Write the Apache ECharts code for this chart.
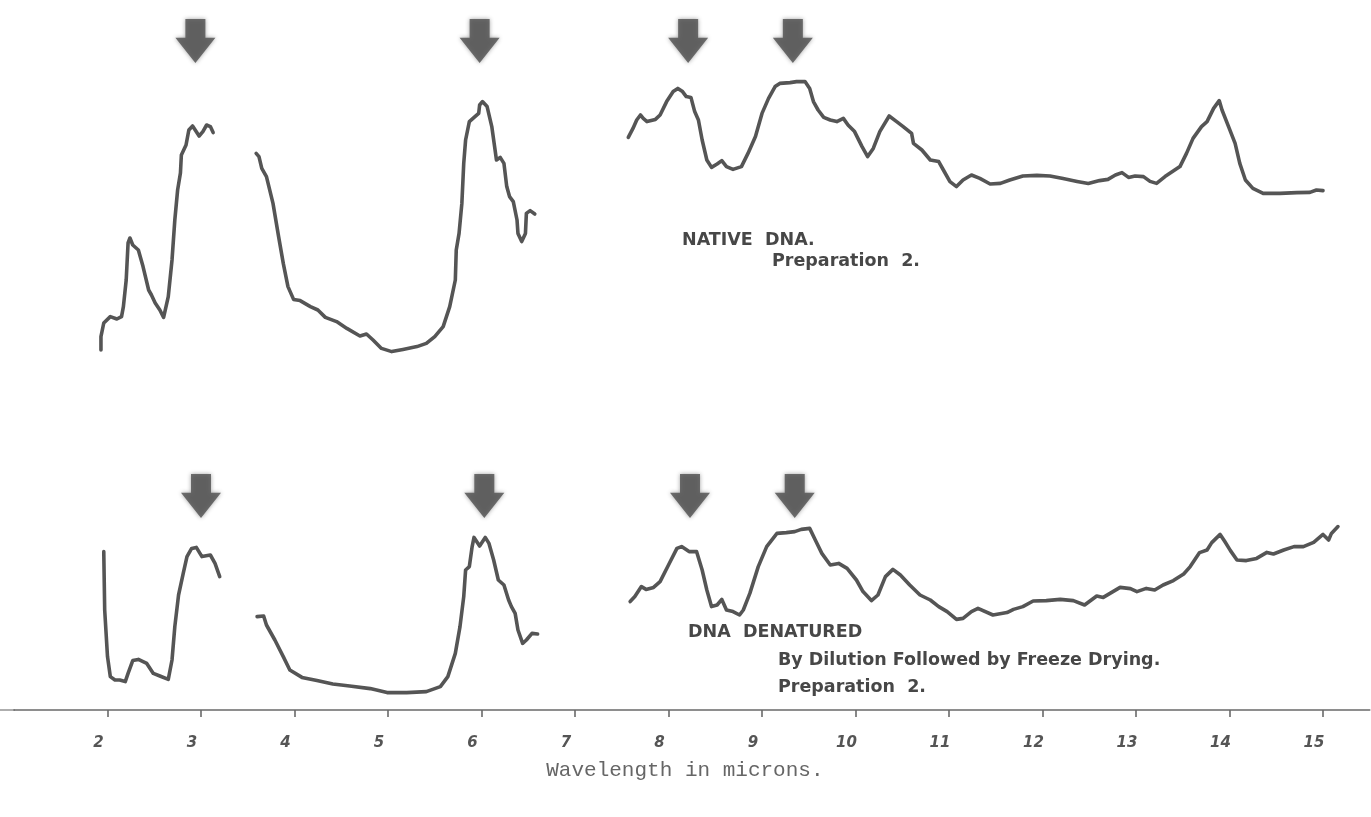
<!DOCTYPE html>
<html>
<head>
<meta charset="utf-8">
<script src="https://cdn.jsdelivr.net/npm/echarts@6/dist/echarts.min.js"></script>
<style>
html,body{margin:0;padding:0;background:#fff;}
#chart{width:1371px;height:817px;}
</style>
</head>
<body>
<div id="chart"></div>
<script>
// ---- Data (wavelength in microns, relative absorption in arbitrary units) ----
const xTicks = [2,3,4,5,6,7,8,9,10,11,12,13,14,15];

// Native DNA, Preparation 2 (upper trace), three recorded segments
const nativeSeg1 = [[1.93,5],[1.93,11.7],[1.96,18.5],[2.03,21.7],[2.10,20.5],[2.15,21.7],[2.17,26.7],[2.20,40],[2.22,58.5],[2.24,61],[2.27,57.5],[2.33,55],[2.38,46.7],[2.44,35],[2.47,32.5],[2.51,28.5],[2.56,25],[2.60,21.3],[2.65,31.7],[2.69,50],[2.72,70],[2.75,85],[2.78,93.5],[2.79,102.5],[2.84,107.5],[2.87,115],[2.91,117],[2.98,112],[3.02,114.2],[3.06,117.5],[3.10,116.7],[3.13,113.7]];
const nativeSeg2 = [[3.59,103.3],[3.62,101.7],[3.65,95.8],[3.70,91.7],[3.77,78.3],[3.83,61.7],[3.88,48.3],[3.93,36.7],[3.99,30.3],[4.06,29.7],[4.17,26.7],[4.25,25],[4.33,21.3],[4.45,19.2],[4.56,15.8],[4.70,12],[4.77,13],[4.84,10],[4.93,5.8],[5.04,4.2],[5.16,5.3],[5.31,6.7],[5.41,8.3],[5.50,11.7],[5.59,16.7],[5.66,26.7],[5.72,40],[5.73,55],[5.76,63.3],[5.79,78.3],[5.81,98.3],[5.83,110],[5.87,119.2],[5.93,121.7],[5.97,123.3],[5.98,127.5],[6.01,129.2],[6.06,126.7],[6.11,116.7],[6.14,106.7],[6.16,100],[6.20,101.3],[6.24,98.3],[6.27,86.7],[6.30,81.7],[6.34,79.2],[6.38,70],[6.39,63.3],[6.43,59.2],[6.47,63.3],[6.48,73.3],[6.52,74.7],[6.57,73]];
const nativeSeg3 = [[7.57,111.3],[7.62,115.8],[7.66,120],[7.70,122.5],[7.73,120.8],[7.77,119.2],[7.86,120.3],[7.91,122.5],[7.98,129.2],[8.05,134.2],[8.10,135.8],[8.15,134.2],[8.19,131.7],[8.24,131.3],[8.28,124.2],[8.32,120],[8.36,110],[8.41,100],[8.46,96.3],[8.52,98],[8.57,99.7],[8.62,96.7],[8.69,95.3],[8.78,96.7],[8.85,103.3],[8.93,111.7],[9.00,123.3],[9.07,130.8],[9.14,136.7],[9.19,138.3],[9.30,138.7],[9.37,139.2],[9.46,139.2],[9.51,135.8],[9.55,129.2],[9.60,125],[9.66,121.3],[9.73,120],[9.80,119.2],[9.87,120.8],[9.92,117.5],[9.99,114.2],[10.07,106.7],[10.13,101.7],[10.19,105.8],[10.26,114.2],[10.36,122],[10.44,119.2],[10.51,116.7],[10.60,113.3],[10.62,108.3],[10.71,105],[10.80,100],[10.89,99.2],[10.94,95],[11.01,89.2],[11.08,86.7],[11.15,90],[11.24,92.5],[11.33,90.8],[11.44,88],[11.55,88.3],[11.65,90],[11.79,92],[11.94,92.3],[12.08,92],[12.22,90.7],[12.37,89.3],[12.49,88.3],[12.61,89.7],[12.70,90.3],[12.78,92.5],[12.85,93.7],[12.92,91.3],[12.99,92],[13.08,91.7],[13.15,89.3],[13.22,88.3],[13.31,91.7],[13.47,96.7],[13.54,103.3],[13.61,110.8],[13.70,116.7],[13.76,119.2],[13.83,125.8],[13.89,129.7],[13.92,125],[13.99,116.7],[14.06,108.3],[14.11,98.3],[14.17,90],[14.25,85.8],[14.36,83.3],[14.54,83.3],[14.72,83.7],[14.86,83.8],[14.93,85],[15.00,84.7]];

// DNA denatured by dilution followed by freeze drying, Preparation 2 (lower trace)
const denatSeg1 = [[1.96,79.2],[1.97,50],[2.00,26.7],[2.03,16.7],[2.08,15],[2.13,15],[2.19,14.2],[2.22,18.3],[2.27,24.7],[2.33,25.3],[2.42,23.3],[2.49,18.3],[2.56,17],[2.65,15.3],[2.69,25],[2.72,41.7],[2.76,57.5],[2.81,68.3],[2.85,76.7],[2.90,80.8],[2.95,81.3],[3.01,76.7],[3.04,77],[3.10,77.5],[3.15,73.3],[3.20,66.7]];
const denatSeg2 = [[3.60,46.7],[3.67,47],[3.70,42.5],[3.79,35],[3.88,26.7],[3.95,20],[4.08,16.3],[4.24,14.7],[4.41,13],[4.59,12],[4.81,10.7],[4.99,8.7],[5.20,8.7],[5.41,9.2],[5.56,11.7],[5.64,16.7],[5.72,28.3],[5.77,41.7],[5.81,56.7],[5.83,70],[5.87,71.7],[5.90,81.7],[5.92,86.3],[5.98,82],[6.04,86.3],[6.08,83.3],[6.13,75],[6.18,65],[6.24,62.5],[6.29,55],[6.32,51.7],[6.36,48.3],[6.39,40],[6.44,33.3],[6.48,35],[6.54,38.3],[6.60,38]];
const denatSeg3 = [[7.59,54.2],[7.64,56.7],[7.71,61.7],[7.76,60.3],[7.84,61.3],[7.91,64.2],[8.00,72.5],[8.09,80.8],[8.14,81.7],[8.22,79.2],[8.30,79.2],[8.36,70],[8.41,60],[8.46,51.7],[8.52,52.5],[8.57,55.3],[8.62,50],[8.69,49.2],[8.76,47.5],[8.80,50],[8.87,58.3],[8.96,71.7],[9.05,81.7],[9.16,88.3],[9.26,88.7],[9.35,89.2],[9.42,90.3],[9.51,90.8],[9.57,85],[9.64,78.3],[9.73,72.5],[9.82,73.3],[9.91,70.8],[10.01,65],[10.08,59.2],[10.17,54.7],[10.24,57.5],[10.32,66.7],[10.40,70.3],[10.48,67.5],[10.58,62.5],[10.69,57.5],[10.80,55],[10.89,51.7],[10.98,49.2],[11.08,45.3],[11.15,45.8],[11.24,49.2],[11.31,50.8],[11.47,47.5],[11.62,48.7],[11.69,50.3],[11.79,51.7],[11.90,54.5],[12.04,54.7],[12.19,55.3],[12.33,54.7],[12.45,52.5],[12.58,57],[12.65,56.3],[12.83,61.3],[12.94,60.7],[13.01,59.2],[13.11,60.8],[13.20,60],[13.29,62.5],[13.40,64.7],[13.51,68],[13.58,71.7],[13.68,78.7],[13.76,80],[13.81,83.7],[13.90,87.8],[13.95,84.2],[14.01,79.7],[14.08,75],[14.18,74.7],[14.29,75.8],[14.40,78.8],[14.47,78],[14.58,80],[14.69,81.7],[14.79,81.7],[14.90,83.8],[15.00,87.8],[15.06,85],[15.09,88.3],[15.16,91.7]];

// Marked absorption bands (arrows)
const nativeArrows = [[2.94,159.5],[5.98,159.5],[8.21,159.5],[9.33,159.5]];
const denatArrows  = [[3.00,107],[6.03,107],[8.23,107],[9.35,107]];

// ---- Chart ----
const LINE = '#555555';
const ARROW = 'path://M10,0 L30,0 L30,18 L40,18 L20,42 L0,18 L10,18 Z';
const labelFont = '"DejaVu Sans", "Liberation Sans", sans-serif';
const noteFont = 'bold 17.5px ' + labelFont;

function lineSeries(data, idx){
  return {type:'line', data:data, xAxisIndex:idx, yAxisIndex:idx, showSymbol:false, symbol:'none',
    smooth:false, silent:true, animation:false,
    lineStyle:{color:LINE, width:3.6, cap:'round', join:'round'}};
}
function arrowSeries(data, idx){
  return {type:'scatter', data:data, xAxisIndex:idx, yAxisIndex:idx, symbol:ARROW, symbolSize:[40,44],
    clip:false, silent:true, animation:false,
    itemStyle:{color:'#4f4f4f', shadowBlur:4, shadowColor:'rgba(60,60,60,0.6)'}};
}

const chart = echarts.init(document.getElementById('chart'), null, {renderer:'canvas'});
chart.setOption({
  backgroundColor:'#ffffff',
  animation:false,
  grid:[
    {left:14, right:1.25, top:20, height:340},
    {left:14, right:1.25, top:460, height:250}
  ],
  xAxis:[
    {type:'value', gridIndex:0, min:1, max:15.5, interval:1, show:false},
    {type:'value', gridIndex:1, min:1, max:15.5, interval:1,
      axisLine:{show:true, lineStyle:{color:'#6a6a6a', width:1.6}},
      axisTick:{show:true, length:7, lineStyle:{color:'#6a6a6a', width:1.6}, customValues:xTicks},
      axisLabel:{customValues:xTicks, margin:26, color:'#555', fontStyle:'italic', fontWeight:'bold',
        fontSize:15, fontFamily:labelFont, padding:[0,18,0,0]},
      splitLine:{show:false},
      name:'Wavelength in microns.', nameLocation:'middle', nameGap:50,
      nameTextStyle:{fontFamily:'"Liberation Mono", "DejaVu Sans Mono", monospace', fontSize:21,
        color:'#666', padding:[0,14,0,0]}
    }
  ],
  yAxis:[
    {type:'value', gridIndex:0, min:0, max:170, show:false},
    {type:'value', gridIndex:1, min:0, max:125, show:false}
  ],
  series:[
    lineSeries(nativeSeg1,0), lineSeries(nativeSeg2,0), lineSeries(nativeSeg3,0),
    lineSeries(denatSeg1,1), lineSeries(denatSeg2,1), lineSeries(denatSeg3,1),
    arrowSeries(nativeArrows,0), arrowSeries(denatArrows,1)
  ],
  graphic:[
    {type:'line', x:0, y:0, silent:true, shape:{x1:0,y1:710,x2:15,y2:710}, style:{stroke:'#9a9a9a', lineWidth:1.6}},
    {type:'text', left:682, top:231, style:{text:'NATIVE  DNA.', font:noteFont, fill:'#474747'}},
    {type:'text', left:772, top:252, style:{text:'Preparation  2.', font:noteFont, fill:'#474747'}},
    {type:'text', left:688, top:623, style:{text:'DNA  DENATURED', font:noteFont, fill:'#474747'}},
    {type:'text', left:778, top:651, style:{text:'By Dilution Followed by Freeze Drying.', font:noteFont, fill:'#474747'}},
    {type:'text', left:778, top:678, style:{text:'Preparation  2.', font:noteFont, fill:'#474747'}}
  ]
});
</script>
</body>
</html>
